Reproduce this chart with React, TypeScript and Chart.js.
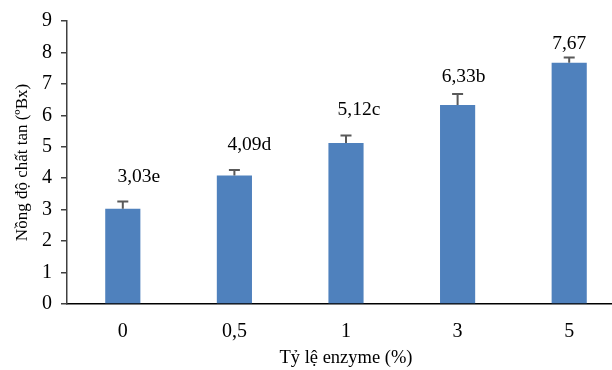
import React, { useEffect, useRef } from "react";
import { Chart, registerables } from "chart.js";

Chart.register(...registerables);

const categories = ["0", "0,5", "1", "3", "5"];
const values = [3.03, 4.09, 5.12, 6.33, 7.67];
const errors = [0.23, 0.17, 0.24, 0.35, 0.17];
const pointLabels = ["3,03e", "4,09d", "5,12c", "6,33b", "7,67"];
const yTicks = [0, 1, 2, 3, 4, 5, 6, 7, 8, 9];

const FONT = "'Liberation Serif', 'Times New Roman', serif";
const labelDx = [16, 15, 13, 6, 0];
const labelDy = [32, 31, 33, 28, 19];

const overlayPlugin = {
  id: "overlay",
  afterDatasetsDraw(chart: any) {
    const ctx = chart.ctx;
    const meta = chart.getDatasetMeta(0);
    const yScale = chart.scales.y;
    ctx.save();
    meta.data.forEach((el: any, i: number) => {
      const x = el.x;
      const yTop = yScale.getPixelForValue(values[i]);
      const yErr = yScale.getPixelForValue(values[i] + errors[i]);
      ctx.strokeStyle = "#595959";
      ctx.lineWidth = 2;
      ctx.beginPath();
      ctx.moveTo(x, yTop);
      ctx.lineTo(x, yErr);
      ctx.moveTo(x - 5.5, yErr);
      ctx.lineTo(x + 5.5, yErr);
      ctx.stroke();
      ctx.fillStyle = "#000";
      ctx.font = `19.5px ${FONT}`;
      ctx.textAlign = "center";
      ctx.textBaseline = "middle";
      ctx.fillText(pointLabels[i], x + labelDx[i], yTop - labelDy[i]);
    });
    ctx.restore();
  },
};

export default function App() {
  const ref = useRef<HTMLCanvasElement | null>(null);
  useEffect(() => {
    if (!ref.current) return;
    const chart = new Chart(ref.current, {
      type: "bar",
      data: {
        labels: categories,
        datasets: [
          {
            data: values,
            backgroundColor: "#4F81BD",
            borderWidth: 0,
            categoryPercentage: 0.315,
            barPercentage: 1,
          },
        ],
      },
      options: {
        responsive: false,
        animation: false,
        maintainAspectRatio: false,
        layout: { padding: { top: 18, right: 15, bottom: 0, left: 0 } },
        plugins: {
          legend: { display: false },
          tooltip: { enabled: false },
        },
        scales: {
          x: {
            afterFit: (s: any) => {
              s.height = 66;
            },
            grid: { display: false, drawTicks: false },
            border: { display: true, color: "#000", width: 1.5 },
            ticks: {
              color: "#000",
              font: { family: FONT, size: 20 },
              padding: 16,
            },
            title: {
              display: true,
              text: "Tỷ lệ enzyme (%)",
              color: "#000",
              font: { family: FONT, size: 18.5 },
              padding: { top: 0, bottom: 1 },
            },
          },
          y: {
            min: 0,
            max: 9,
            afterFit: (s: any) => {
              s.width = 67;
            },
            afterBuildTicks: (s: any) => {
              s.ticks = yTicks.map((v) => ({ value: v }));
            },
            grid: {
              display: true,
              drawOnChartArea: false,
              drawTicks: true,
              tickLength: 6,
              color: "#404040",
              lineWidth: 1.5,
            },
            border: { display: true, color: "#404040", width: 1.5 },
            ticks: {
              color: "#000",
              font: { family: FONT, size: 20 },
              padding: 9,
            },
            title: {
              display: true,
              text: "Nồng độ chất tan (ºBx)",
              color: "#000",
              font: { family: FONT, size: 17 },
              padding: { top: 12, bottom: 0 },
            },
          },
        },
      },
      plugins: [overlayPlugin],
    });
    return () => chart.destroy();
  }, []);
  return (
    <div
      style={{
        position: "absolute",
        left: 0,
        top: 0,
        width: 612,
        height: 370,
        overflow: "hidden",
        background: "#fff",
      }}
    >
      <canvas ref={ref} width={640} height={370} style={{ display: "block" }} />
    </div>
  );
}
